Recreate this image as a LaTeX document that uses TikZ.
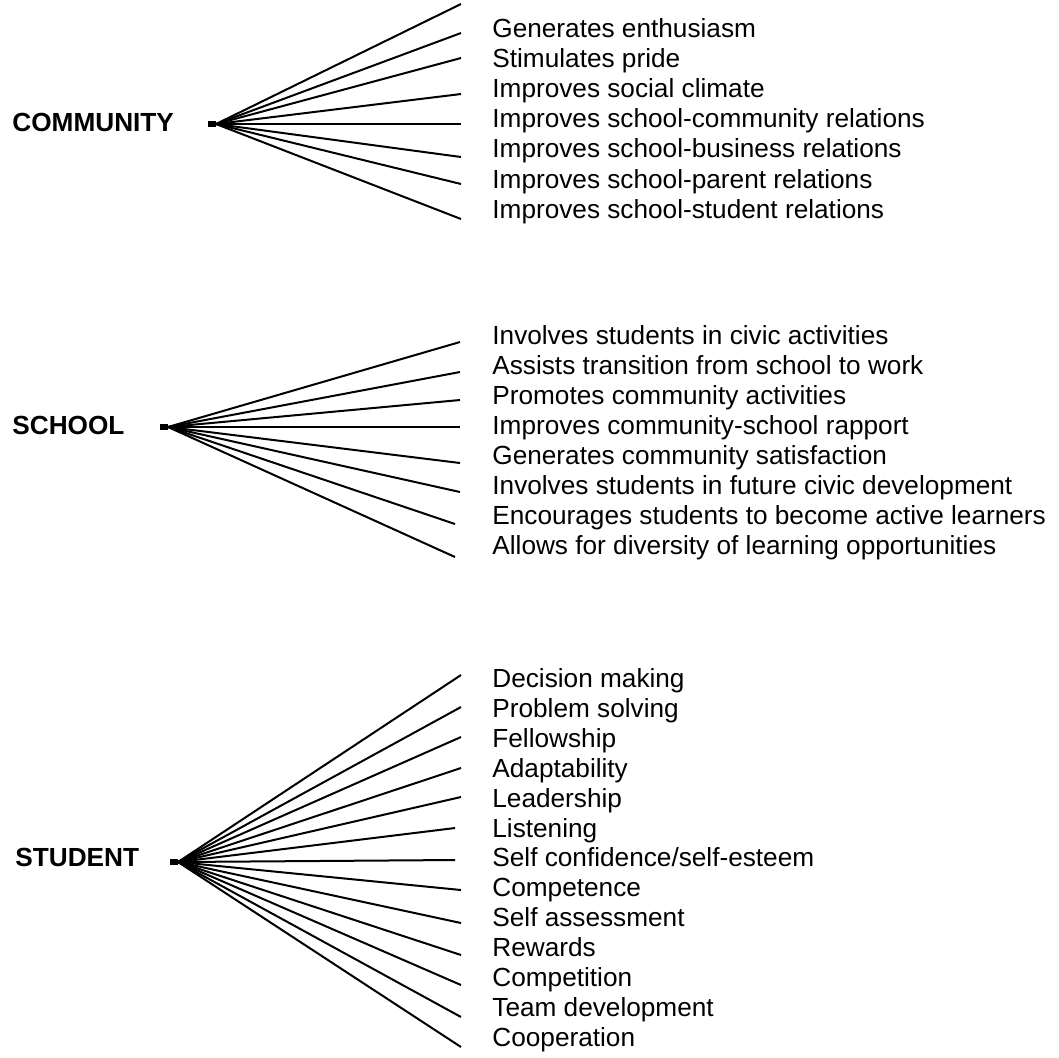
\documentclass[tikz,border=0pt]{standalone}
\usepackage{fontspec}
\setmainfont{Liberation Sans}

\begin{document}
\begin{tikzpicture}[x=0.5pt, y=-0.5pt,
  every node/.style = {inner sep=0pt, font=\fontsize{13.1}{15}\selectfont},
  head/.style = {anchor=base west, font=\fontsize{13.1}{15}\selectfont\bfseries},
  item/.style = {anchor=base west},
  hub/.style = {shape=rectangle, fill=black, minimum width=4pt,
    minimum height=3pt, anchor=east},
  spoke/.style = {line width=1pt}]
  \useasboundingbox (0,0) rectangle (1059,1057);

  % community fan
  \node[head] (community) at (12,131.5) {COMMUNITY};
  \node[hub] (comm) at (216,124) {};
  \foreach \y [count=\i] in {4,33,58,94,124,157,184,219} {
    \coordinate (comm-e\i) at (461,\y);
    \draw[spoke] (comm.east) -- (comm-e\i);
  }
  \foreach \txt [count=\i from 0] in {Generates enthusiasm, Stimulates pride,
      Improves social climate, Improves school-community relations,
      Improves school-business relations, Improves school-parent relations,
      Improves school-student relations}
    \node[item] (comm-\i) at (492,{37+30.2*\i}) {\txt};

  % school fan
  \node[head] (school) at (12,434) {SCHOOL};
  \node[hub] (schl) at (168,427) {};
  \foreach \x/\y [count=\i] in {460/342,460/372,460/400,460/427,
      460/463,460/492,455/524,455/557} {
    \coordinate (schl-e\i) at (\x,\y);
    \draw[spoke] (schl.east) -- (schl-e\i);
  }
  \foreach \txt [count=\i from 0] in {Involves students in civic activities,
      Assists transition from school to work, Promotes community activities,
      Improves community-school rapport, Generates community satisfaction,
      Involves students in future civic development,
      Encourages students to become active learners,
      Allows for diversity of learning opportunities}
    \node[item] (schl-\i) at (492,{344.5+30*\i}) {\txt};

  % student fan
  \node[head] (student) at (15,866.5) {STUDENT};
  \node[hub] (stud) at (178,862) {};
  \foreach \x/\y [count=\i] in {461/675,461/707,461/737,461/768,461/797,
      455/828,455/860,461/890,461/923,461/955,461/985,461/1017,461/1047} {
    \coordinate (stud-e\i) at (\x,\y);
    \draw[spoke] (stud.east) -- (stud-e\i);
  }
  \foreach \txt [count=\i from 0] in {Decision making, Problem solving,
      Fellowship, Adaptability, Leadership, Listening,
      Self confidence/self-esteem, Competence, Self assessment, Rewards,
      Competition, Team development, Cooperation}
    \node[item] (stud-\i) at (492,{687.5+29.9*\i}) {\txt};
\end{tikzpicture}
\end{document}
